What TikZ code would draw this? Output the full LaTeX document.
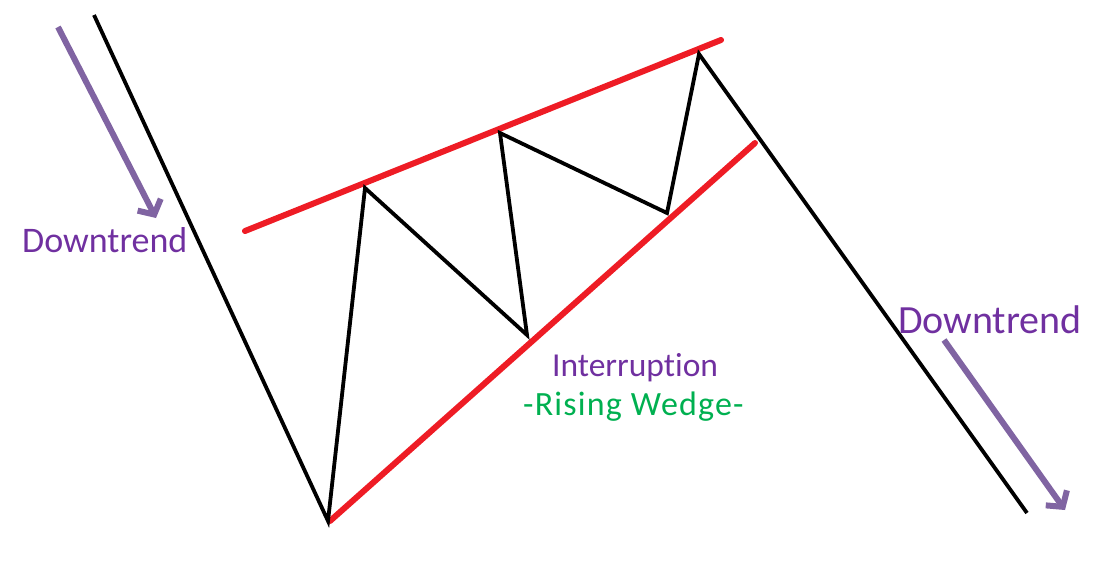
\documentclass[tikz,border=0pt]{standalone}
\usepackage{fontspec}
\setmainfont{Carlito}[Ligatures={NoCommon}]
\newfontfamily\wedgefont{Carlito}[Ligatures={NoCommon}, LetterSpace=3.5]
\usetikzlibrary{arrows.meta}
\definecolor{txtpurple}{HTML}{7030A0}
\definecolor{arrpurple}{HTML}{8064A2}
\definecolor{wedgered}{HTML}{EE1C25}
\definecolor{wedgegreen}{HTML}{00B050}
\tikzset{
  price/.style={draw=black, line width=3.8pt, line join=miter},
  trendline/.style={draw=wedgered, line width=6pt, line cap=round},
  trendarrow/.style={draw=arrpurple, line width=6pt, -{Straight Barb[length=11pt, width=26pt, line width=6pt]}},
  lbl/.style={inner sep=0pt, anchor=base west},
}
\begin{document}
\begin{tikzpicture}[x=1pt, y=-1pt]
\useasboundingbox (0,0) rectangle (1105,562);
% price path points
\coordinate (p0) at (94,15);
\coordinate (p1) at (328,521);
\coordinate (p2) at (365,188);
\coordinate (p3) at (527,335);
\coordinate (p4) at (500,133);
\coordinate (p5) at (667,213);
\coordinate (p6) at (699,54);
\coordinate (p7) at (1027,513);
% red trend lines
\coordinate (u0) at (245,231);
\coordinate (u1) at (721,40);
\coordinate (l0) at (330,521);
\coordinate (l1) at (755,143);
\draw[trendline] (u0) -- (u1);
\draw[trendline] (l0) -- (l1);
\draw[price] (p0) -- (p1) -- (p2) -- (p3) -- (p4) -- (p5) -- (p6) -- (p7);
% arrows
\coordinate (a0) at (58,27);
\coordinate (a1) at (156,218);
\coordinate (b0) at (944,340);
\coordinate (b1) at (1065,510);
\draw[trendarrow] (a0) -- (a1);
\draw[trendarrow] (b0) -- (b1);
% labels
\node[lbl, text=txtpurple, font=\fontsize{36}{39}\selectfont] (dl) at (22,252) {Downtrend};
\node[lbl, text=txtpurple, font=\fontsize{40}{43}\selectfont] (dr) at (898,333) {Downtrend};
\node[lbl, text=txtpurple, font=\fontsize{33.5}{36}\selectfont] (int) at (552,376) {Interruption};
\node[lbl, text=wedgegreen, font=\wedgefont\fontsize{34}{37}\selectfont] (rw) at (523,415) {-Rising Wedge-};
\end{tikzpicture}
\end{document}
